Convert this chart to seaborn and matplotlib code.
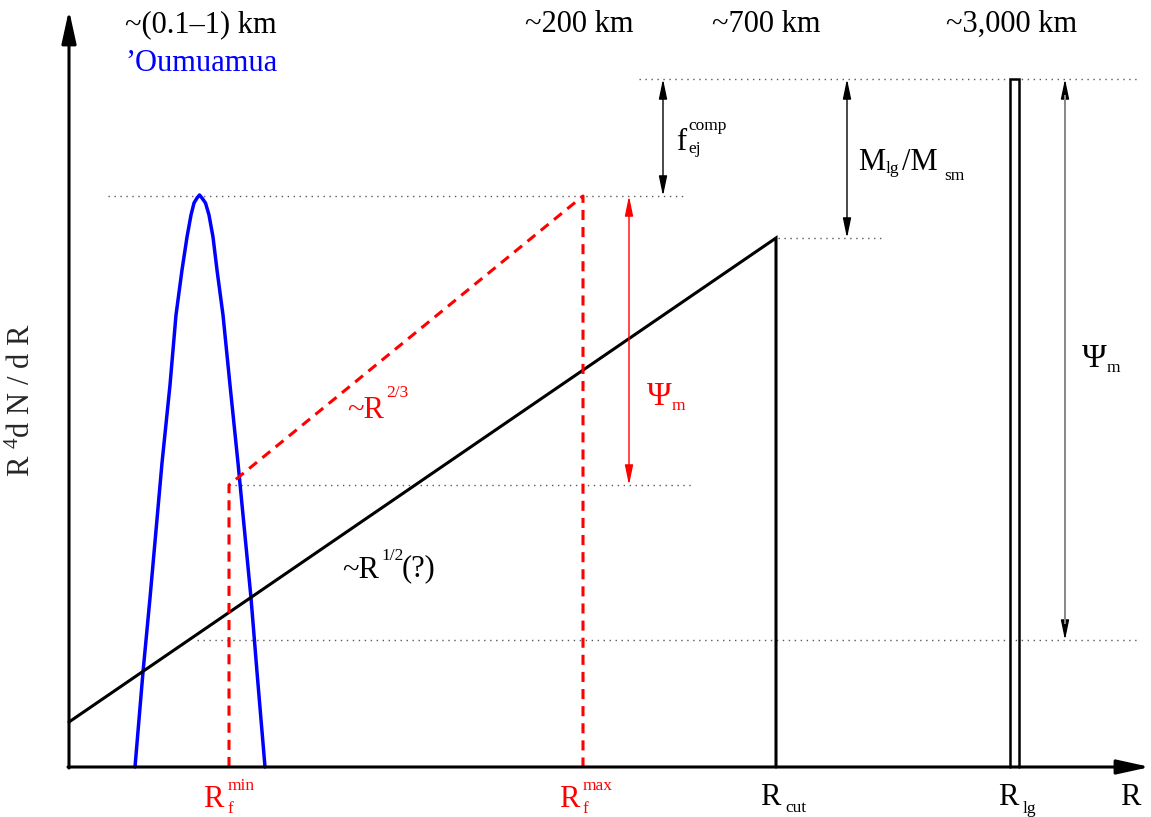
import matplotlib
matplotlib.use("Agg")
import matplotlib.pyplot as plt
import seaborn as sns

# schematic drawn in pixel units of the reference (y grows downward)
axis_x0, axis_y0 = 69, 767
axis_top, axis_right = 10, 1150

# 'Oumuamua bump
oumuamua_x = [135, 143, 150, 162, 170, 176, 182, 187, 191, 194, 197, 199.5,
              202, 205.5, 209, 213, 217, 223, 230, 238, 251, 257, 265]
oumuamua_y = [767, 672, 598, 463, 385, 315, 270, 237, 215, 203, 198, 195,
              198, 203, 215, 237, 270, 315, 385, 463, 598, 672, 767]

# ~R^1/2 population with cut-off
cut_x = [69, 776, 776]
cut_y = [722, 238, 767]

# ~R^2/3 fragments (dashed)
frag_x = [229, 229, 583, 583]
frag_y = [767, 485, 196, 767]

# largest body (narrow box)
lg_x = [1010, 1010, 1019, 1019]
lg_y = [767, 79, 79, 767]

# dotted guide levels
guide_y = [79, 196, 238, 485, 640]
guide_x0 = [639, 108, 778, 229, 197]
guide_x1 = [1137, 685, 885, 693, 1137]

# double arrows
span_x = [663, 847, 629, 1065]
span_top = [79, 79, 196, 79]
span_bot = [196, 238, 485, 640]
span_col = ["black", "black", "red", "0.55"]
span_head = ["black", "black", "red", "black"]

top_labels = ["~(0.1\u20131) km", "~200 km", "~700 km", "~3,000 km"]
top_label_x = [125, 525, 712, 946]

sns.set_theme(style="white")
plt.rcParams["font.family"] = ["Liberation Serif", "DejaVu Serif"]
plt.rcParams["mathtext.fontset"] = "custom"
plt.rcParams["mathtext.rm"] = "Liberation Serif"
plt.rcParams["mathtext.it"] = "Liberation Serif:italic"

fig = plt.figure(figsize=(11.51, 8.17), dpi=100)
ax = fig.add_axes([0, 0, 1, 1])
ax.set_xlim(0, 1151)
ax.set_ylim(817, 0)
ax.axis("off")

BIG = 22
SMALL = 12.5


def txt(x, y, s, size=BIG, color="black", **kw):
    ax.text(x, y, s, fontsize=size, color=color, ha="left", va="baseline", **kw)


# guides
ax.hlines(guide_y, guide_x0, guide_x1, colors="0.35", lw=1.0, linestyles=(0, (1, 3.3)))

# curves
sns.lineplot(x=oumuamua_x, y=oumuamua_y, sort=False, estimator=None, ax=ax,
             color="blue", lw=2.5, solid_joinstyle="round")
sns.lineplot(x=cut_x, y=cut_y, sort=False, estimator=None, ax=ax,
             color="black", lw=2.2, solid_joinstyle="miter")
sns.lineplot(x=frag_x, y=frag_y, sort=False, estimator=None, ax=ax,
             color="red", lw=2.2, linestyle=(0, (3.3, 2.3)))
sns.lineplot(x=lg_x, y=lg_y, sort=False, estimator=None, ax=ax,
             color="black", lw=1.8, solid_joinstyle="miter")

# double arrows
for x, t, b, c, h in zip(span_x, span_top, span_bot, span_col, span_head):
    ax.annotate("", xy=(x, t), xytext=(x, b),
                arrowprops=dict(arrowstyle="<|-|>,head_length=1.2,head_width=0.25",
                                color=h, lw=1.0, shrinkA=0, shrinkB=0,
                                mutation_scale=10))
    if c != h:
        ax.vlines(x, t + 16, b - 16, colors=c, lw=1.4, zorder=5)

# axes with arrow heads
ax.annotate("", xy=(axis_x0, axis_top), xytext=(axis_x0, axis_y0 + 1),
            arrowprops=dict(arrowstyle="-|>,head_length=1.0,head_width=0.22",
                            color="black", lw=2.2, shrinkA=0, shrinkB=0,
                            mutation_scale=20))
ax.annotate("", xy=(axis_right, axis_y0), xytext=(axis_x0 - 1, axis_y0),
            arrowprops=dict(arrowstyle="-|>,head_length=1.0,head_width=0.22",
                            color="black", lw=2.2, shrinkA=0, shrinkB=0,
                            mutation_scale=20))

# top size labels
for s, x in zip(top_labels, top_label_x):
    txt(x, 32, s)
txt(125, 71, "\u2019Oumuamua", color="blue")

# f_ej^comp
txt(676, 150, "f")
txt(688, 130, "comp", SMALL)
txt(688, 153, "ej", SMALL)

# M_lg / M_sm
txt(858, 170, "M")
txt(886, 173, "lg", SMALL)
txt(902, 170, "/M")
txt(944, 180, "sm", SMALL)

# psi_m labels
txt(647, 405, "\u03a8", 24, "red")
txt(672, 410, "m", SMALL, "red")
txt(1082, 367, "\u03a8", 24)
txt(1107, 372, "m", SMALL)

# slopes
txt(347, 418, "~R", color="red")
txt(386, 397, "2/3", SMALL, "red")
txt(342, 578, "~R")
txt(381, 560, "1/2", SMALL)
txt(402, 576, "(?)")

# x-axis labels
txt(203, 807, "R", color="red")
txt(228, 790, "min", SMALL, "red")
txt(228, 813, "f", SMALL, "red")
txt(559, 807, "R", color="red")
txt(583, 790, "max", SMALL, "red")
txt(583, 813, "f", SMALL, "red")
txt(760, 805, "R")
txt(785, 812, "cut", SMALL)
txt(998, 805, "R")
txt(1023, 813, "lg", SMALL)
txt(1120, 805, "R")

# y label
ax.text(22, 400, r"R $^{4}$d N / d R", fontsize=BIG, rotation=90,
        ha="center", va="center")

fig.savefig("out.png", dpi=100)
